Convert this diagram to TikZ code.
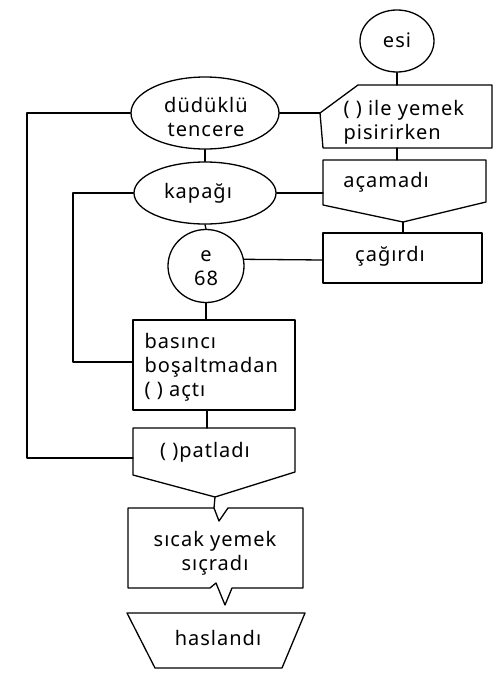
\documentclass[tikz,border=0pt]{standalone}
\usepackage{fontspec}
\setmainfont{Noto Sans}[LetterSpace=5]
\usetikzlibrary{shapes.geometric}
\begin{document}
\begin{tikzpicture}[x=1pt,y=-1pt,
  line width=1.3pt, line join=round, line cap=round,
  txt/.style={font=\fontsize{20}{24}\selectfont, inner sep=0pt, align=center},
  oval/.style={draw, ellipse, inner sep=0pt, line width=1.3pt}]
\useasboundingbox[fill=white] (0,0) rectangle (502,677);

% ---- ovals / circles
\node[oval, minimum width=74pt, minimum height=62pt] (esi) at (397,41) {};
\node[txt] (esit) at (397,40) {esi};
\node[oval, minimum width=148pt, minimum height=72pt] (dud) at (205,113) {};
\node[txt] (dudt) at (206,117) {düdüklü\\tencere};
\node[oval, minimum width=142pt, minimum height=62pt] (kap) at (205,193) {};
\node[txt] (kapt) at (198,193) {kapağı};
\node[oval, minimum width=76pt, minimum height=73pt] (e68) at (206,266) {};
\node[txt] (e68t) at (206,268) {e\\68};

% ---- box 1 : ( ) ile yemek pisirirken
\coordinate (b1l) at (320,113);
\coordinate (b1t) at (397,85);
\coordinate (b1b) at (397,148);
\draw (b1l) -- (358,85) -- (492,85) -- (492,148) -- (323,148) -- cycle;
\node[txt, anchor=west, align=left] (b1) at (343,122) {( ) ile yemek\\pisirirken};

% ---- açamadı
\coordinate (act) at (397,160);
\coordinate (acl) at (323,193);
\coordinate (acv) at (403,222);
\draw (323,160) -- (486,160) -- (486,202) -- (acv) -- (323,205) -- cycle;
\node[txt] (ac) at (386,182) {açamadı};

% ---- çağırdı
\coordinate (cat) at (403,233);
\coordinate (cal) at (323,260);
\draw (323,233) rectangle (482,283);
\node[txt] (ca) at (390,256) {çağırdı};

% ---- basıncı boşaltmadan ( ) açtı
\coordinate (bat) at (206,320);
\coordinate (bal) at (133,362);
\coordinate (bab) at (207,410);
\draw (133,320) rectangle (295,410);
\node[txt, anchor=west, align=left] (ba) at (144,367) {basıncı\\boşaltmadan\\( ) açtı};

% ---- ( )patladı
\coordinate (pat) at (207,428);
\coordinate (pal) at (133,458);
\coordinate (pav) at (215,497);
\draw (133,428) -- (295,428) -- (295,472) -- (pav) -- (133,475) -- cycle;
\node[txt] (pa) at (205,452) {( )patladı};

% ---- sıcak yemek sıçradı
\coordinate (sit) at (214,508);
\coordinate (siv) at (225,605);
\draw (128,508) -- (sit) -- (219,521) -- (228,508) -- (303,508) -- (303,588)
      -- (232,588) -- (siv) -- (216,583) -- (210,588) -- (128,588) -- cycle;
\node[txt] (si) at (215,553) {sıcak yemek\\sıçradı};

% ---- haslandı
\draw (127,613) -- (305,613) -- (282,668) -- (155,668) -- cycle;
\node[txt] (ha) at (218,638) {haslandı};

% ---- connectors
\draw (esi.south) -- (b1t);
\draw (dud.east) -- (b1l);
\draw (b1b) -- (act);
\draw (dud.south) -- (kap.north);
\draw (kap.east) -- (acl);
\draw (acv) -- (cat);
\draw (kap.south) -- (e68.north);
\draw (e68.10) -- (cal);
\draw (e68.south) -- (bat);
\draw (kap.west) -- (73,193) -- (73,362) -- (bal);
\draw (bab) -- (pat);
\draw (dud.west) -- (27,113) -- (27,458) -- (pal);
\draw (pav) -- (sit);
\end{tikzpicture}
\end{document}
